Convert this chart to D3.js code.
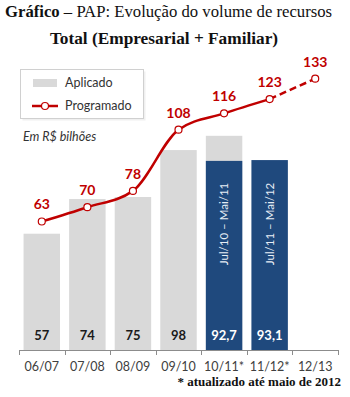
<!DOCTYPE html>
<html><head><meta charset="utf-8">
<script src="https://cdn.jsdelivr.net/npm/d3@7"></script>
<style>
body{margin:0;background:#fff;}
svg{display:block;}
</style></head>
<body>
<script>
const categories = ["06/07","07/08","08/09","09/10","10/11*","11/12*","12/13"];
const aplicado = [57, 74, 75, 98, 105, null, null];
const aplicadoLabels = ["57","74","75","98",null,null,null];
const parcial = [null, null, null, null, 92.7, 93.1, null];
const parcialLabels = [null,null,null,null,"92,7","93,1",null];
const periodos = [null,null,null,null,"Jul/10 – Mai/11","Jul/11 – Mai/12",null];
const programado = [63, 70, 78, 108, 116, 123, 133];

const W = 350, H = 397;
const svg = d3.select("body").append("svg").attr("width", W).attr("height", H);
const sans = "Lato, 'Open Sans', sans-serif";
const red = "#C00000", blue = "#1F497D", gray = "#D9D9D9";

// Title
const t1 = svg.append("text").attr("x", 5).attr("y", 17).attr("font-family", "'Liberation Serif', serif").attr("font-size", 16.7).attr("fill", "#111");
t1.append("tspan").attr("font-weight", "bold").text("Gráfico");
t1.append("tspan").text(" – PAP: Evolução do volume de recursos");
svg.append("text").attr("x", 164).attr("y", 44).attr("text-anchor", "middle")
  .attr("font-family", "'Liberation Serif', serif").attr("font-weight", "bold").attr("font-size", 17.3).attr("fill", "#111")
  .text("Total (Empresarial + Familiar)");

const x = d3.scaleBand().domain(categories).range([19, 338]).paddingInner(0.2).paddingOuter(0.1);
const xTicks = d3.scaleBand().domain(categories).range([19, 338]);
const y = d3.scaleLinear().domain([0, 133]).range([350, 350 - 133 * 2.04]);

// bars aplicado
svg.selectAll("rect.ap").data(categories.map((c,i)=>({c, v: aplicado[i]})).filter(d=>d.v!=null))
  .enter().append("rect").attr("class","ap")
  .attr("x", d=>x(d.c)).attr("width", x.bandwidth())
  .attr("y", d=>y(d.v)).attr("height", d=>y(0)-y(d.v)).attr("fill", gray);

// bars parcial
svg.selectAll("rect.pa").data(categories.map((c,i)=>({c, v: parcial[i]})).filter(d=>d.v!=null))
  .enter().append("rect").attr("class","pa")
  .attr("x", d=>x(d.c)).attr("width", x.bandwidth())
  .attr("y", d=>y(d.v)).attr("height", d=>y(0)-y(d.v)).attr("fill", blue);

// labels inside bars
categories.forEach((c,i)=>{
  const cx = x(c) + x.bandwidth()/2;
  if (aplicadoLabels[i]) svg.append("text").attr("x", cx).attr("y", 340).attr("text-anchor","middle")
    .attr("font-family", sans).attr("font-weight","bold").attr("font-size",13).attr("fill","#1a1a1a").text(aplicadoLabels[i]);
  if (parcialLabels[i]) svg.append("text").attr("x", cx).attr("y", 340).attr("text-anchor","middle")
    .attr("font-family", sans).attr("font-weight","bold").attr("font-size",13).attr("fill","#fff").text(parcialLabels[i]);
  if (periodos[i]) svg.append("text").attr("transform", `translate(${cx+4},224) rotate(-90)`).attr("text-anchor","middle")
    .attr("font-family", sans).attr("font-size",11.5).attr("fill","#e8eef5").text(periodos[i]);
});

// axis
const axisG = svg.append("g");
axisG.append("line").attr("x1", 19).attr("x2", 338).attr("y1", 350.5).attr("y2", 350.5).attr("stroke", "#8c8c8c");
categories.concat(["__end"]).forEach((c,i)=>{
  const tx = Math.round(19 + i * xTicks.step()) + 0.5;
  axisG.append("line").attr("x1", tx).attr("x2", tx).attr("y1", 350).attr("y2", 355).attr("stroke", "#8c8c8c");
});
categories.forEach(c=>{
  axisG.append("text").attr("x", xTicks(c)+xTicks.bandwidth()/2).attr("y", 371).attr("text-anchor","middle")
    .attr("font-family", sans).attr("font-size",12.5).attr("fill","#404040").text(c);
});

// line
const pts = categories.map((c,i)=>[x(c)+x.bandwidth()/2, y(programado[i])]);
const line = d3.line().curve(d3.curveMonotoneX);
svg.append("path").attr("d", line(pts.slice(0,6))).attr("fill","none").attr("stroke", red).attr("stroke-width",2.5);
svg.append("path").attr("d", d3.line()(pts.slice(5))).attr("fill","none").attr("stroke", red).attr("stroke-width",2.5).attr("stroke-dasharray","7,4");
svg.selectAll("circle.pt").data(pts).enter().append("circle").attr("class","pt")
  .attr("cx", d=>d[0]).attr("cy", d=>d[1]).attr("r", 3.5).attr("fill","#fff").attr("stroke", red).attr("stroke-width",1.2);
svg.selectAll("text.pl").data(pts).enter().append("text").attr("class","pl")
  .attr("x", d=>d[0]).attr("y", d=>d[1]-12).attr("text-anchor","middle")
  .attr("font-family", sans).attr("font-weight","bold").attr("font-size",14).attr("fill", red)
  .text((d,i)=>programado[i]);

// legend
const lg = svg.append("g");
lg.append("rect").attr("x", 21.5).attr("y", 70.5).attr("width", 123).attr("height", 49).attr("fill","#f0f0f0").attr("transform","translate(1,1)");
lg.append("rect").attr("x", 20.5).attr("y", 69.5).attr("width", 123).attr("height", 49).attr("fill","#fff").attr("stroke","#d0d0d0");
lg.append("rect").attr("x", 33).attr("y", 79).attr("width", 24).attr("height", 8).attr("fill", gray);
lg.append("text").attr("x", 65).attr("y", 87).attr("font-family", sans).attr("font-size",12.5).attr("fill","#333").text("Aplicado");
lg.append("line").attr("x1", 32).attr("x2", 58).attr("y1", 106).attr("y2", 106).attr("stroke", red).attr("stroke-width",2.5);
lg.append("circle").attr("cx", 45).attr("cy", 106).attr("r", 3.5).attr("fill","#fff").attr("stroke", red).attr("stroke-width",1.2);
lg.append("text").attr("x", 65).attr("y", 110).attr("font-family", sans).attr("font-size",12.5).attr("fill","#333").text("Programado");

svg.append("text").attr("x", 23).attr("y", 141).attr("font-family", sans).attr("font-style","italic").attr("font-size",12.5).attr("fill","#333").text("Em R$ bilhões");

// footnote
svg.append("text").attr("x", 341).attr("y", 386).attr("text-anchor","end")
  .attr("font-family", "'Liberation Serif', serif").attr("font-weight","bold").attr("font-size",13).attr("fill","#111")
  .text("* atualizado até maio de 2012");
</script>
</body></html>
